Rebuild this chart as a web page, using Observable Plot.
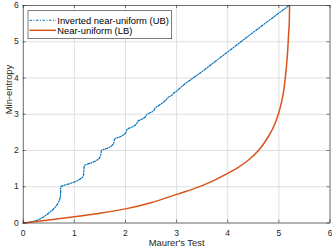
<!DOCTYPE html>
<html>
<head>
<meta charset="utf-8">
<script src="https://cdn.jsdelivr.net/npm/d3@7"></script>
<script src="https://cdn.jsdelivr.net/npm/@observablehq/plot@0.6"></script>
<style>
  html, body { margin: 0; padding: 0; background: #fff; }
  #wrap { position: relative; width: 332px; height: 249px; }
  #legend { position: absolute; left: 0; top: 0; pointer-events: none; }
</style>
</head>
<body>
<div id="wrap"></div>
<script>
// ---- data ----
const xTicks = [0, 1, 2, 3, 4, 5, 6];
const yTicks = [0, 1, 2, 3, 4, 5, 6];

const ubX = [0, 0.1, 0.21, 0.34, 0.47, 0.6, 0.66, 0.70, 0.72, 0.73, 0.735,
  0.8, 0.9, 1.0, 1.05, 1.12, 1.17, 1.185, 1.195,
  1.25, 1.35, 1.44, 1.49, 1.515, 1.53,
  1.6, 1.7, 1.75, 1.775, 1.79,
  1.88, 1.96, 2.0, 2.02, 2.03,
  2.1, 2.18, 2.22, 2.24,
  2.3, 2.38, 2.42,
  2.48, 2.55, 2.58,
  2.65, 2.73,
  2.80, 2.83, 2.91, 2.945, 3.02, 3.05,
  3.5, 4.0, 4.5, 5.0, 5.2];
const ubY = [0, 0.01, 0.05, 0.12, 0.24, 0.40, 0.50, 0.60, 0.68, 0.80, 1.0,
  1.04, 1.08, 1.13, 1.16, 1.22, 1.28, 1.40, 1.585,
  1.62, 1.67, 1.73, 1.79, 1.87, 2.0,
  2.04, 2.10, 2.16, 2.22, 2.32,
  2.37, 2.43, 2.48, 2.53, 2.585,
  2.63, 2.69, 2.74, 2.807,
  2.85, 2.92, 3.0,
  3.04, 3.10, 3.17,
  3.24, 3.32,
  3.41, 3.46, 3.53, 3.585, 3.66, 3.70,
  4.18, 4.72, 5.26, 5.79, 6.0];

const lbX = [0, 0.5, 1, 1.5, 2, 2.5, 3, 3.5, 4, 4.2, 4.4, 4.6, 4.7, 4.8, 4.9, 4.95, 5.0, 5.05, 5.1, 5.15, 5.17, 5.19, 5.205, 5.21];
const lbY = [0, 0.08, 0.17, 0.27, 0.39, 0.56, 0.79, 1.03, 1.37, 1.53, 1.73, 2.0, 2.18, 2.40, 2.66, 2.84, 3.05, 3.32, 3.70, 4.35, 4.70, 5.20, 5.60, 6.0];

const seriesNames = ["Inverted near-uniform (UB)", "Near-uniform (LB)"];
const xLabel = "Maurer's Test";
const yLabel = "Min-entropy";

// ---- build ----
const ub = ubX.map((x, i) => ({x, y: ubY[i]}));
const lb = lbX.map((x, i) => ({x, y: lbY[i]}));

const W = 332, H = 249;
const mL = 22.7, mR = 2.5, mT = 5, mB = 26.5;
const pw = W - mL - mR, ph = H - mT - mB;
const font = "'Liberation Sans', Arial, Helvetica, sans-serif";
const blue = "#0072BD", orange = "#D95319";
const dash = "2.5,1.5,1,1.5";

const chart = Plot.plot({
  width: W, height: H,
  marginLeft: mL, marginRight: mR, marginTop: mT, marginBottom: mB,
  x: {domain: [0, 6]},
  y: {domain: [0, 6]},
  style: {fontFamily: font, fontSize: "8.5px", background: "white", color: "#262626", overflow: "visible"},
  marks: [
    Plot.gridX(xTicks, {stroke: "#dfdfdf", strokeOpacity: 1, strokeWidth: 1}),
    Plot.gridY(yTicks, {stroke: "#dfdfdf", strokeOpacity: 1, strokeWidth: 1}),
    Plot.line(ub, {x: "x", y: "y", stroke: blue, strokeWidth: 1.2, strokeDasharray: dash, curve: "monotone-x"}),
    Plot.line(lb, {x: "x", y: "y", stroke: orange, strokeWidth: 1.5, curve: "monotone-x"}),
    Plot.frame({stroke: "#262626", strokeWidth: 0.6}),
    Plot.tickX(xTicks, {x: d => d, insetTop: ph - 3, stroke: "#262626", strokeWidth: 0.6}),
    Plot.tickX(xTicks, {x: d => d, insetBottom: ph - 3, stroke: "#262626", strokeWidth: 0.6}),
    Plot.tickY(yTicks, {y: d => d, insetRight: pw - 3, stroke: "#262626", strokeWidth: 0.6}),
    Plot.tickY(yTicks, {y: d => d, insetLeft: pw - 3, stroke: "#262626", strokeWidth: 0.6}),
    Plot.axisX(xTicks, {tickSize: 0, tickPadding: 6.5, label: null, tickFormat: d => String(d)}),
    Plot.axisY(yTicks, {tickSize: 0, tickPadding: 4.5, label: null, tickFormat: d => String(d)}),
    Plot.text([xLabel], {frameAnchor: "bottom", dy: 22.5, fontSize: 9.4, fill: "#262626"}),
    Plot.text([yLabel], {frameAnchor: "left", rotate: -90, dx: -14.5, fontSize: 9.4, fill: "#262626"})
  ]
});

const wrap = document.getElementById("wrap");
wrap.appendChild(chart);

// ---- legend overlay ----
const leg = d3.select(wrap).append("svg")
  .attr("id", "legend")
  .attr("width", W).attr("height", H)
  .style("font-family", font);
const lx = 28, ly = 10.7, lw = 143.7, lh = 28;
leg.append("rect").attr("x", lx).attr("y", ly).attr("width", lw).attr("height", lh)
  .attr("fill", "white").attr("stroke", "#262626").attr("stroke-width", 0.6);
const rows = [
  {name: seriesNames[0], color: blue, width: 1, dash: dash, cy: 20.3},
  {name: seriesNames[1], color: orange, width: 1.5, dash: null, cy: 30.3}
];
rows.forEach(r => {
  leg.append("line").attr("x1", 29.5).attr("x2", 56).attr("y1", r.cy).attr("y2", r.cy)
    .attr("stroke", r.color).attr("stroke-width", r.width)
    .attr("stroke-dasharray", r.dash);
  leg.append("text").attr("x", 57.3).attr("y", r.cy).attr("dy", "0.35em")
    .attr("font-size", 9.4).attr("fill", "#000").text(r.name);
});
</script>
</body>
</html>
